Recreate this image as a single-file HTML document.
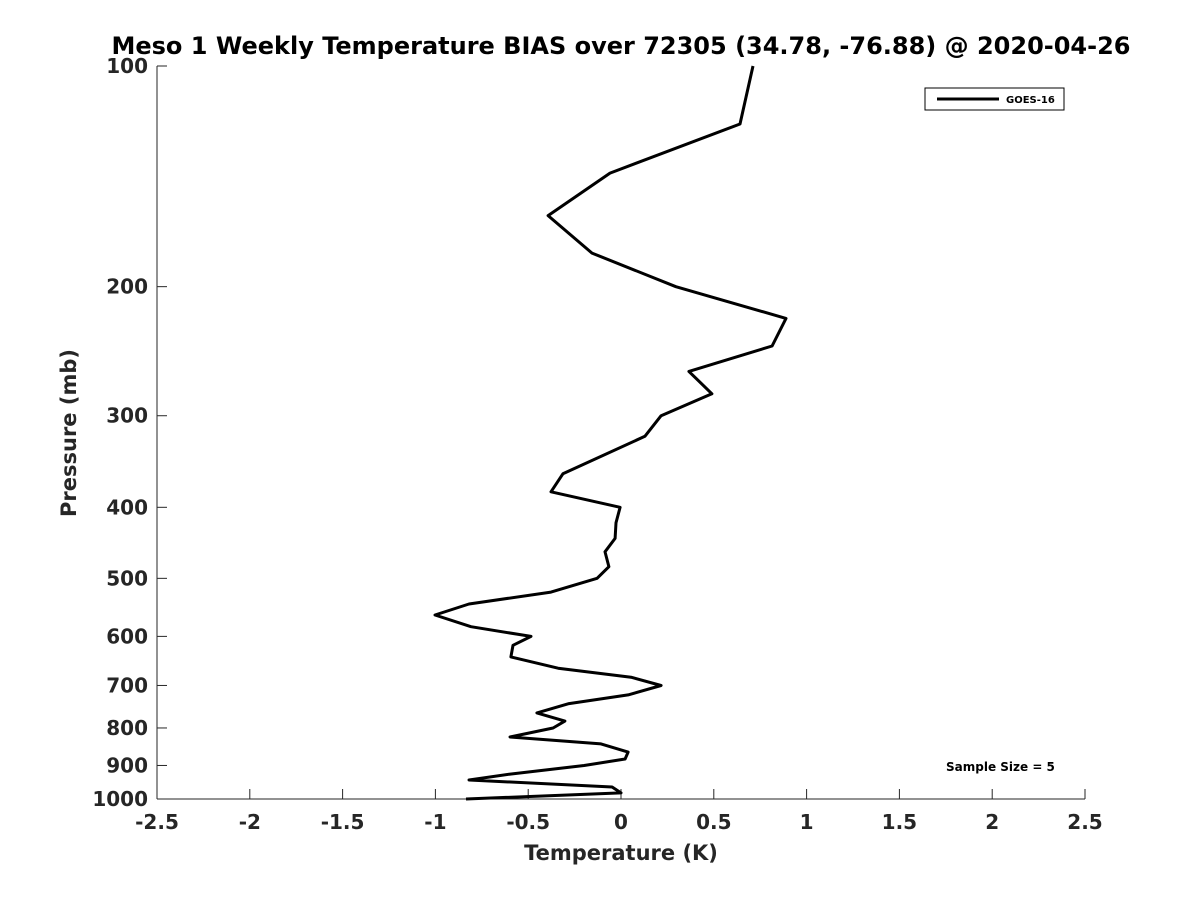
<!DOCTYPE html>
<html><head><meta charset="utf-8"><style>
body{margin:0;background:#fff;font-family:"Liberation Sans",sans-serif}
text{font-family:"DejaVu Sans","Liberation Sans",sans-serif;font-weight:bold;fill:#262626}
</style></head><body>
<svg id="c" width="1200" height="900" xmlns="http://www.w3.org/2000/svg">
<text x="621" y="54" text-anchor="middle" font-size="24" style="fill:#000">Meso 1 Weekly Temperature BIAS over 72305 (34.78, -76.88) @ 2020-04-26</text>
<g id="axes"></g>
<path id="line" fill="none" stroke="#000" stroke-width="3" stroke-linejoin="round"/>
<g>
<rect x="925" y="88" width="139" height="22" fill="#fff" stroke="#000" stroke-width="1"/>
<line x1="937" y1="99" x2="999" y2="99" stroke="#000" stroke-width="3"/>
<text x="1006" y="103" font-size="10" style="fill:#000">GOES-16</text>
</g>
<text x="946" y="771" font-size="12" style="fill:#000">Sample Size = 5</text>
<text x="621" y="860" text-anchor="middle" font-size="21">Temperature (K)</text>
<text transform="translate(76,433) rotate(-90)" text-anchor="middle" font-size="21">Pressure (mb)</text>
</svg>
<script>
const xTicks=[-2.5,-2,-1.5,-1,-0.5,0,0.5,1,1.5,2,2.5];
const yTicks=[100,200,300,400,500,600,700,800,900,1000];
const pressure=[100,120,140,160,180,200,221,241,261,280,300,320,360,381,400,420,441,460,482,500,522,542,561,582,600,617,640,663,682,700,721,741,763,783,800,823,841,863,882,900,925,942,963,981,1000];
const bias=[0.711,0.641,-0.059,-0.393,-0.156,0.296,0.889,0.814,0.366,0.49,0.216,0.129,-0.313,-0.377,-0.005,-0.027,-0.032,-0.086,-0.065,-0.129,-0.377,-0.819,-1.002,-0.808,-0.485,-0.582,-0.593,-0.339,0.054,0.216,0.038,-0.28,-0.453,-0.302,-0.366,-0.598,-0.108,0.038,0.022,-0.199,-0.603,-0.819,-0.048,0,-0.835];
const X=v=>157+(v+2.5)/5*928;
const Y=p=>66+Math.log10(p/100)*733;
const ns="http://www.w3.org/2000/svg";
const ax=document.getElementById('axes');
function mk(t,a){const e=document.createElementNS(ns,t);for(const k in a)e.setAttribute(k,a[k]);ax.appendChild(e);return e;}
let e=mk('line',{x1:157,y1:66,x2:157,y2:799,stroke:'#262626','stroke-width':1});


e=mk('line',{x1:157,y1:799,x2:1085,y2:799,stroke:'#262626','stroke-width':1});


xTicks.forEach(v=>{
 const t=mk('line',{x1:X(v),y1:799,x2:X(v),y2:789,stroke:'#262626'});
 
 
 const l=mk('text',{x:X(v),y:829,'text-anchor':'middle','font-size':20});
 l.textContent=String(v);
 
 
});
yTicks.forEach(p=>{
 const t=mk('line',{x1:157,y1:Y(p),x2:167,y2:Y(p),stroke:'#262626'});
 
 
 const l=mk('text',{x:148,y:Y(p)+7,'text-anchor':'end','font-size':20});
 l.textContent=String(p);
 
 
});
document.getElementById('line').setAttribute('d',pressure.map((p,i)=>(i?'L':'M')+X(bias[i]).toFixed(1)+','+Y(p).toFixed(1)).join(''));
</script>
</body></html>
